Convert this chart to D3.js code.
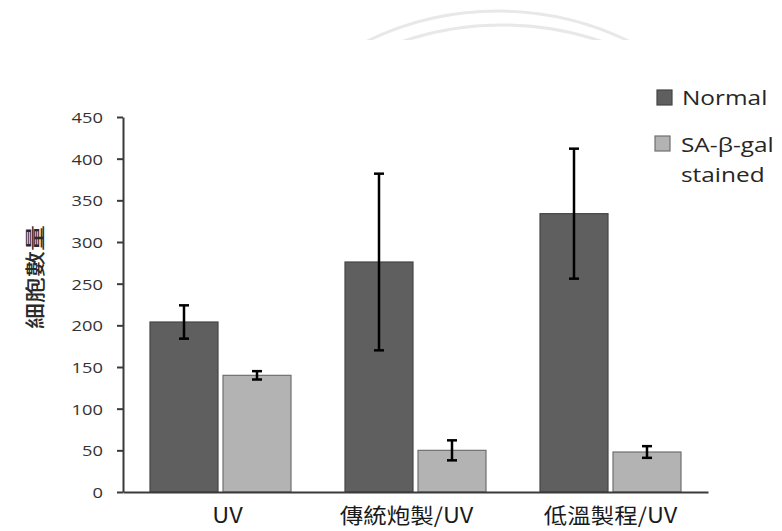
<!DOCTYPE html>
<html>
<head>
<meta charset="utf-8">
<script src="https://cdn.jsdelivr.net/npm/d3@7"></script>
<style>
  html, body { margin: 0; padding: 0; background: #fff; }
  svg { display: block; }
</style>
</head>
<body>
<svg id="chart" width="782" height="531"></svg>
<script>
// Cell counts per treatment group (mean ± error)
const categories = ["UV", "傳統炮製/UV", "低溫製程/UV"];
const seriesNames = ["Normal", "SA-β-gal stained"];
const normalValues = [204, 276, 334];
const normalErrors = [20, 106, 78];
const stainedValues = [140, 50, 48];
const stainedErrors = [5, 12, 7];
const yTicks = [0, 50, 100, 150, 200, 250, 300, 350, 400, 450];
const yLabel = "細胞數量";

const svg = d3.select("#chart");
const W = 782, H = 531;
const plot = { left: 123, right: 708, top: 117, bottom: 492 };
const latinFont = "'Open Sans', 'Noto Sans', sans-serif";
const cjkFont = "'Noto Sans CJK TC', 'Noto Sans CJK SC', sans-serif";
const stretch = 1.22; // horizontal widening applied to text

const colors = { Normal: "#5f5f5f", "SA-β-gal stained": "#b3b3b3" };
const strokes = { Normal: "#454545", "SA-β-gal stained": "#6f6f6f" };

// faint double arc ornament at the top
(function drawOrnament() {
  const g = svg.append("g");
  const clip = svg.append("defs").append("clipPath").attr("id", "orn-clip");
  clip.append("rect").attr("x", 0).attr("y", 0).attr("width", W).attr("height", 40);
  g.attr("clip-path", "url(#orn-clip)");
  const arcs = [
    { cx: 498, cy: 310, r: 299 },
    { cx: 502, cy: 333, r: 308 }
  ];
  arcs.forEach(a => {
    const p = d3.path();
    p.arc(a.cx, a.cy, a.r, -Math.PI * 0.5 - 0.5, -Math.PI * 0.5 + 0.5);
    g.append("path").attr("d", p.toString())
      .attr("fill", "none").attr("stroke", "#e8e8e8").attr("stroke-width", 3);
  });
})();

const y = d3.scaleLinear().domain([0, 450]).range([plot.bottom, plot.top]);
const x = d3.scaleBand().domain(categories).range([plot.left, plot.right]);
const xSub = d3.scaleBand().domain(seriesNames).range([27, 168]).paddingInner(0.0685);

const rows = categories.map((c, i) => ({
  category: c,
  bars: [
    { series: "Normal", value: normalValues[i], err: normalErrors[i] },
    { series: "SA-β-gal stained", value: stainedValues[i], err: stainedErrors[i] }
  ]
}));

// bars
const groups = svg.append("g").selectAll("g").data(rows).join("g")
  .attr("transform", d => `translate(${x(d.category)},0)`);

groups.selectAll("rect").data(d => d.bars).join("rect")
  .attr("x", d => xSub(d.series))
  .attr("y", d => y(d.value))
  .attr("width", xSub.bandwidth())
  .attr("height", d => y(0) - y(d.value))
  .attr("fill", d => colors[d.series])
  .attr("stroke", d => strokes[d.series])
  .attr("stroke-width", 1.2);

// error bars
const eb = groups.selectAll("g.err").data(d => d.bars).join("g").attr("class", "err");
eb.append("line")
  .attr("x1", d => xSub(d.series) + xSub.bandwidth() / 2)
  .attr("x2", d => xSub(d.series) + xSub.bandwidth() / 2)
  .attr("y1", d => y(d.value + d.err))
  .attr("y2", d => y(d.value - d.err))
  .attr("stroke", "#000").attr("stroke-width", 2.5);
[1, -1].forEach(s => {
  eb.append("line")
    .attr("x1", d => xSub(d.series) + xSub.bandwidth() / 2 - 5)
    .attr("x2", d => xSub(d.series) + xSub.bandwidth() / 2 + 5)
    .attr("y1", d => y(d.value + s * d.err))
    .attr("y2", d => y(d.value + s * d.err))
    .attr("stroke", "#000").attr("stroke-width", 2.5);
});

// y axis
const yAxis = svg.append("g")
  .attr("transform", `translate(${plot.left},0)`)
  .call(d3.axisLeft(y).tickValues(yTicks).tickSize(6).tickSizeOuter(0).tickFormat(d3.format("d")));
yAxis.select(".domain").attr("stroke", "#3a3a3a").attr("stroke-width", 2);
yAxis.selectAll(".tick line").attr("stroke", "#3a3a3a").attr("stroke-width", 2);
yAxis.selectAll(".tick text").remove();
yAxis.selectAll(".tick").append("g")
  .attr("transform", `translate(-20,0) scale(${stretch},1)`)
  .append("text")
  .attr("text-anchor", "end")
  .attr("dy", "0.36em")
  .attr("font-family", latinFont)
  .attr("font-size", 15)
  .attr("fill", "#333")
  .text(d => d);

// x axis baseline and category labels
const xAxis = svg.append("g")
  .attr("transform", `translate(0,${plot.bottom})`)
  .call(d3.axisBottom(x).tickSize(0).tickSizeOuter(0));
xAxis.select(".domain").attr("stroke", "#3a3a3a").attr("stroke-width", 2);
xAxis.selectAll(".tick text").remove();
const labelShift = [7, -9, 0];
xAxis.selectAll(".tick").append("g")
  .attr("transform", (d, i) => `translate(${labelShift[i]},31) scale(1.12,1)`)
  .append("text")
  .attr("text-anchor", "middle")
  .attr("font-family", cjkFont)
  .attr("font-size", 21)
  .attr("fill", "#1a1a1a")
  .text(d => d);

// y axis title, vertical
svg.append("g")
  .attr("transform", "translate(43,277) rotate(-90) scale(1,0.8)")
  .append("text")
  .attr("text-anchor", "middle")
  .attr("font-family", cjkFont)
  .attr("font-weight", 500)
  .attr("font-size", 26)
  .attr("fill", "#2a2a2a")
  .text(yLabel);

// legend
const legend = svg.append("g");
const legendItems = [
  { series: "Normal", sx: 657, sy: 90, lines: ["Normal"], tx: 682, ty: 105 },
  { series: "SA-β-gal stained", sx: 655, sy: 136, lines: ["SA-β-gal", "stained"], tx: 681, ty: 152 }
];
legendItems.forEach(it => {
  legend.append("rect")
    .attr("x", it.sx).attr("y", it.sy).attr("width", 15).attr("height", 15)
    .attr("fill", colors[it.series]).attr("stroke", strokes[it.series]).attr("stroke-width", 1.2);
  it.lines.forEach((ln, k) => {
    legend.append("g")
      .attr("transform", `translate(${it.tx},${it.ty + k * 30}) scale(${stretch},1)`)
      .append("text")
      .attr("font-family", latinFont)
      .attr("font-size", 20)
      .attr("fill", "#262626")
      .text(ln);
  });
});
</script>
</body>
</html>
